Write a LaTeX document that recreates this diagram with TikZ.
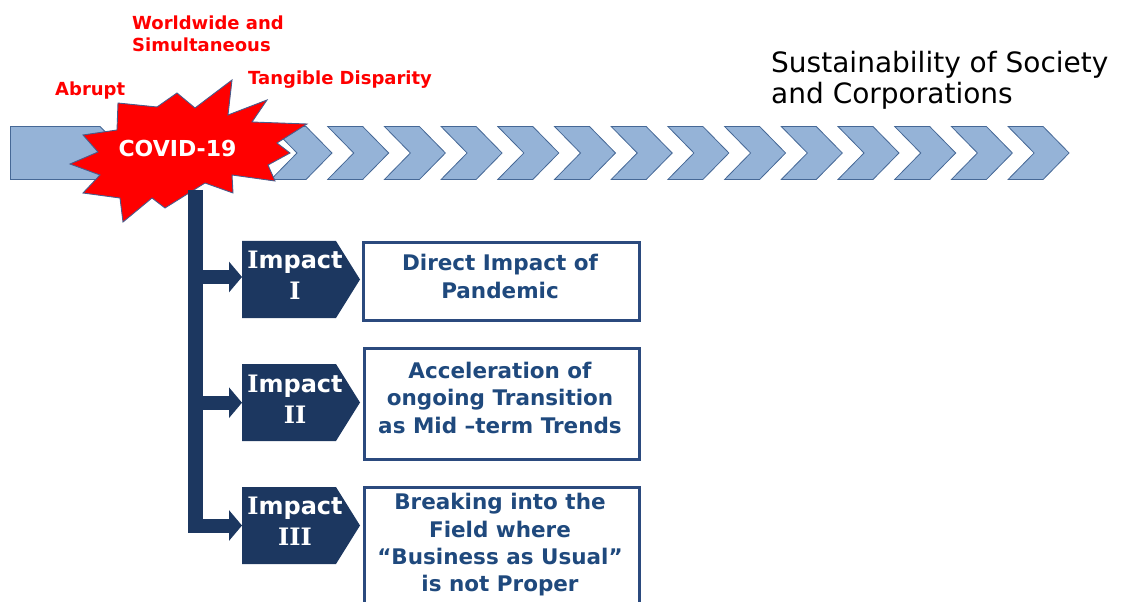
\documentclass[tikz,border=0pt]{standalone}
\usepackage{fontspec}
\setmainfont{DejaVu Sans}
\newfontfamily\romannum{DejaVu Serif}
\usetikzlibrary{arrows.meta}

\definecolor{lanefill}{RGB}{149,179,215}
\definecolor{laneedge}{RGB}{70,104,150}
\definecolor{navy}{RGB}{28,55,96}
\definecolor{boxedge}{RGB}{43,74,126}
\definecolor{boxtext}{RGB}{31,73,125}
\definecolor{alertred}{RGB}{255,0,0}
\definecolor{burstedge}{RGB}{72,92,140}

\begin{document}
\begin{tikzpicture}[x=1bp,y=-1bp,
  lane/.style={fill=lanefill,draw=laneedge,line width=0.8bp,line join=miter},
  burst/.style={fill=alertred,draw=burstedge,line width=0.9bp,line join=miter},
  redlabel/.style={text=alertred,inner sep=0pt,anchor=base west,align=left,
    font=\bfseries\fontsize{18bp}{22bp}\selectfont},
  impactshape/.style={fill=navy,draw=none},
  impacttext/.style={text=white,inner sep=0pt,anchor=base,align=center,
    font=\bfseries\fontsize{24bp}{31bp}\selectfont},
  infobox/.style={draw=boxedge,line width=3bp,fill=white},
  infotext/.style={text=boxtext,inner sep=0pt,anchor=base,align=center,
    font=\bfseries\fontsize{21.5bp}{27.3bp}\selectfont},
  trunk/.style={draw=navy,line width=15bp},
  feed/.style={draw=navy,line width=14bp,-{Triangle[length=13bp,width=30bp]}}
]
\useasboundingbox (0,0) rectangle (1121,602);

% timeline: starting plate and chevrons
\draw[lane] (10.5,126.5) -- (100,126.5) -- (126.5,153) -- (100,179.5) -- (10.5,179.5) -- cycle;
\foreach \k in {0,...,13}{
  \pgfmathsetmacro\cx{271+56.7*\k}
  \draw[lane] (\cx,126.5) -- ++(35,0) -- ++(26,26.5) -- ++(-26,26.5)
    -- ++(-35,0) -- ++(26,-26.5) -- cycle;
}

% the outbreak burst
\draw[burst] (232,80) -- (228,115) -- (267,100) -- (252,122) -- (307,124)
  -- (277,143) -- (290,153) -- (268,165) -- (275,181) -- (232,175)
  -- (233,193) -- (205,183) -- (165,208) -- (152,198) -- (123,222)
  -- (120,198) -- (83,193) -- (100,175) -- (70,164) -- (98,152)
  -- (83,135) -- (117,130) -- (118,103) -- (157,107) -- (177,93)
  -- (195,108) -- cycle;
\node[text=white,inner sep=0pt,font=\bfseries\fontsize{22bp}{26bp}\selectfont]
  (covid) at (177.5,148.5) {COVID-19};

% characteristics of the outbreak (multi-line nodes sit on their last baseline)
\node[redlabel] (abrupt) at (55,96) {Abrupt};
\node[redlabel] (worldwide) at (132,52) {Worldwide and\\Simultaneous};
\node[redlabel] (disparity) at (248,85) {Tangible Disparity};

% long-term goal
\node[inner sep=0pt,anchor=base west,align=left,text=black,
  font=\fontsize{28bp}{31bp}\selectfont] (goal) at (771,104)
  {Sustainability of Society\\and Corporations};

% impact markers
\foreach \n/\top in {1/241,2/364,3/487}{
  \fill[impactshape] (242,\top) -- (336,\top) -- (360,\top+38.5)
    -- (336,\top+77) -- (242,\top+77) -- cycle;
  \node[minimum width=118bp,minimum height=77bp,inner sep=0pt,anchor=north west]
    (imp\n) at (242,\top) {};
}
\node[impacttext] (lab1) at (295,300) {{\romannum I}mpact\\{\romannum I}};
\node[impacttext] (lab2) at (295,423) {{\romannum I}mpact\\{\romannum II}};
\node[impacttext] (lab3) at (295,545) {{\romannum I}mpact\\{\romannum III}};

% branch from the outbreak to the impacts
\coordinate (trunktop) at (195.5,190);
\coordinate (trunkbot) at (195.5,533);
\draw[trunk] (trunktop) -- (trunkbot);
\draw[feed] (trunktop |- 0,277) -- (imp1.west |- 0,277);
\draw[feed] (trunktop |- imp2.west) -- (imp2.west);
\draw[feed] (trunktop |- 0,525.5) -- (imp3.west |- 0,525.5);

% description boxes
\node[infobox,minimum width=276bp,minimum height=78bp,anchor=north west]
  (box1) at (362,241) {};
\node[infobox,minimum width=275bp,minimum height=111bp,anchor=north west]
  (box2) at (363,347) {};
\node[infobox,minimum width=275bp,minimum height=120bp,anchor=north west]
  (box3) at (363,486) {};
\node[infotext] (txt1) at (500,298.3) {Direct Impact of\\Pandemic};
\node[infotext] (txt2) at (500,433) {Acceleration of\\ongoing Transition\\as Mid –term Trends};
\node[infotext] (txt3) at (500,591.7) {Breaking into the\\Field where\\“Business as Usual”\\is not Proper};
\end{tikzpicture}
\end{document}
